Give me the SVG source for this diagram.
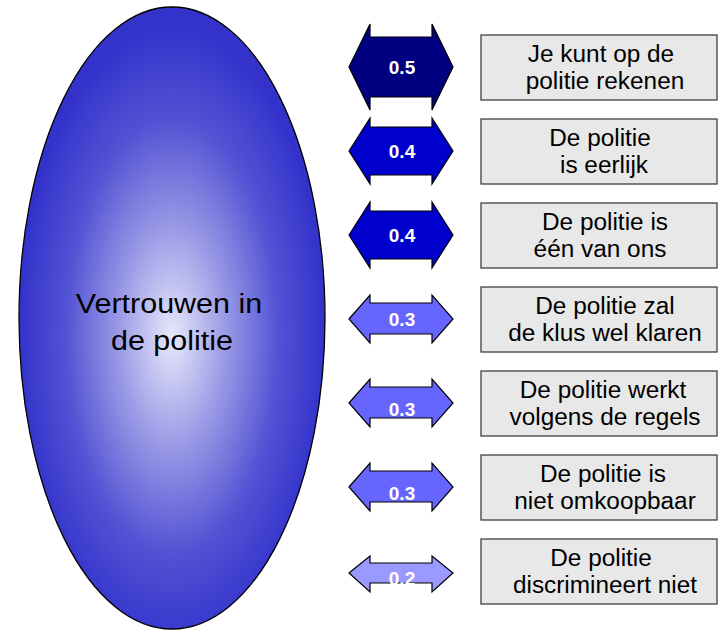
<svg xmlns="http://www.w3.org/2000/svg" width="722" height="630" viewBox="0 0 722 630">
<defs>
<radialGradient id="eg" cx="0.5" cy="0.53" r="0.5">
<stop offset="0" stop-color="#e8e8fb"/>
<stop offset="0.35" stop-color="#9a9ae6"/>
<stop offset="0.7" stop-color="#5252d4"/>
<stop offset="1" stop-color="#3333cc"/>
</radialGradient>
</defs>
<style>
.box{fill:#e8e8e8;stroke:#404040;stroke-width:1.3}
.bt{font-family:"Liberation Sans",Arial,sans-serif;font-size:23px;fill:#000;text-anchor:middle}
.arr{stroke:#000;stroke-width:1.2}
.al{font-family:"Liberation Sans",Arial,sans-serif;font-size:19px;font-weight:bold;fill:#fff;text-anchor:middle}
.et{font-family:"Liberation Sans",Arial,sans-serif;font-size:28px;fill:#000;text-anchor:middle}
</style>
<rect width="722" height="630" fill="#fff"/>
<g id="ellipse">
<ellipse cx="172" cy="318" rx="153" ry="311" fill="url(#eg)" stroke="#000" stroke-width="1.3"/>
<text class="et" transform="translate(169,313) scale(1.09,1)">Vertrouwen in</text>
<text class="et" transform="translate(172,350) scale(1.09,1)">de politie</text>
</g>
<g id="connectors">
<g id="a1"><path class="arr" fill="#000080" d="M349,67 L370,24 L370,37 L432,37 L432,24 L453,67 L432,110 L432,97 L370,97 L370,110 Z"/><text class="al" transform="translate(402,74)">0.5</text></g>
<g id="a2"><path class="arr" fill="#0000cc" d="M349,151 L370,118 L370,127 L432,127 L432,118 L453,151 L432,184 L432,175 L370,175 L370,184 Z"/><text class="al" transform="translate(402,158)">0.4</text></g>
<g id="a3"><path class="arr" fill="#0000cc" d="M349,235 L370,202 L370,211 L432,211 L432,202 L453,235 L432,268 L432,259 L370,259 L370,268 Z"/><text class="al" transform="translate(402,242)">0.4</text></g>
<g id="a4"><path class="arr" fill="#6666ff" d="M349,319 L370,295 L370,303 L432,303 L432,295 L453,319 L432,343 L432,334 L370,334 L370,343 Z"/><text class="al" transform="translate(402,326)">0.3</text></g>
<g id="a5"><path class="arr" fill="#6666ff" d="M349,403 L370,379 L370,387 L432,387 L432,379 L453,403 L432,427 L432,418 L370,418 L370,427 Z"/><text class="al" transform="translate(402,416)">0.3</text></g>
<g id="a6"><path class="arr" fill="#6666ff" d="M349,487 L370,463 L370,471 L432,471 L432,463 L453,487 L432,511 L432,502 L370,502 L370,511 Z"/><text class="al" transform="translate(402,500)">0.3</text></g>
<g id="a7"><path class="arr" fill="#9999ff" d="M349,573 L370,556 L370,563 L432,563 L432,556 L453,573 L432,592 L432,583 L370,583 L370,592 Z"/><text class="al" transform="translate(402,585)">0.2</text></g>
</g>
<g id="b1"><rect class="box" x="481" y="35" width="236" height="65"/><text class="bt" transform="translate(601,62) scale(1.06,1)">Je kunt op de</text><text class="bt" transform="translate(605,89) scale(1.06,1)">politie rekenen</text></g>
<g id="b2"><rect class="box" x="481" y="119" width="236" height="65"/><text class="bt" transform="translate(600,146) scale(1.06,1)">De politie</text><text class="bt" transform="translate(604,173) scale(1.06,1)">is eerlijk</text></g>
<g id="b3"><rect class="box" x="481" y="203" width="236" height="65"/><text class="bt" transform="translate(605,230) scale(1.06,1)">De politie is</text><text class="bt" transform="translate(600,257) scale(1.06,1)">één van ons</text></g>
<g id="b4"><rect class="box" x="481" y="287" width="236" height="65"/><text class="bt" transform="translate(605,314) scale(1.06,1)">De politie zal</text><text class="bt" transform="translate(605,341) scale(1.06,1)">de klus wel klaren</text></g>
<g id="b5"><rect class="box" x="481" y="371" width="236" height="65"/><text class="bt" transform="translate(603,398) scale(1.06,1)">De politie werkt</text><text class="bt" transform="translate(605,425) scale(1.06,1)">volgens de regels</text></g>
<g id="b6"><rect class="box" x="481" y="455" width="236" height="65"/><text class="bt" transform="translate(603,482) scale(1.06,1)">De politie is</text><text class="bt" transform="translate(605,509) scale(1.06,1)">niet omkoopbaar</text></g>
<g id="b7"><rect class="box" x="481" y="539" width="236" height="65"/><text class="bt" transform="translate(601,566) scale(1.06,1)">De politie</text><text class="bt" transform="translate(605,593) scale(1.06,1)">discrimineert niet</text></g>
</svg>
